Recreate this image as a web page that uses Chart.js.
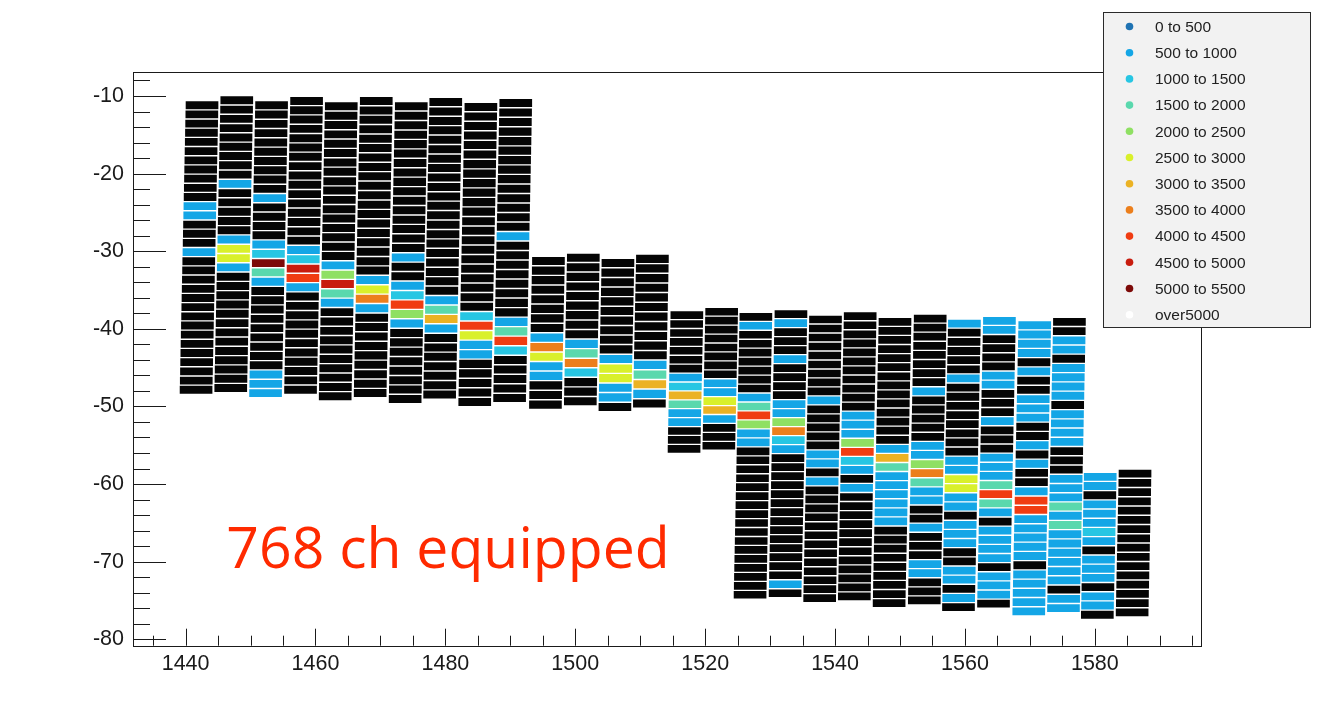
<!DOCTYPE html>
<html>
<head>
<meta charset="utf-8">
<script src="https://cdn.jsdelivr.net/npm/chart.js@4/dist/chart.umd.min.js"></script>
<style>
  html, body { margin: 0; padding: 0; background: #ffffff; }
  #wrap { width: 1331px; height: 713px; position: relative; }
</style>
</head>
<body>
<div id="wrap"><canvas id="c"></canvas></div>
<script>
// ---------- data ----------
const binLabels = ["0 to 500","500 to 1000","1000 to 1500","1500 to 2000","2000 to 2500","2500 to 3000",
                   "3000 to 3500","3500 to 4000","4000 to 4500","4500 to 5000","5000 to 5500","over5000"];
const binColors = ["#1f73b3","#14a6e6","#27c6e3","#5ad8ad","#8fe063","#d9f02b",
                   "#ebb224","#ec7f1c","#f03c12","#c81c0e","#7d0a08","#ffffff"];
const deadColor = "#050505";

// column centre (x, at the column top), top and bottom edge (y), channel count
const colX = [1442.54,1447.89,1453.25,1458.64,1463.98,1469.37,1474.76,1480.07,1485.48,1490.85,
              1495.88,1501.25,1506.58,1511.89,1517.19,1522.55,
              1527.82,1533.22,1538.54,1543.88,1549.24,1554.66,1559.93,1565.32,1570.76,1576.10,1580.84,1586.20];
const colTop = [-10.73,-10.09,-10.73,-10.17,-10.86,-10.17,-10.86,-10.30,-10.94,-10.43,
                -30.78,-30.36,-31.04,-30.49,-37.79,-37.35,
                -38.00,-37.66,-38.35,-37.92,-38.64,-38.22,-38.86,-38.51,-39.08,-38.64,-58.61,-58.19];
const colBottom = [-48.31,-48.10,-48.75,-48.31,-49.17,-48.75,-49.52,-48.95,-49.90,-49.39,
                   -50.24,-49.81,-50.55,-50.11,-55.91,-55.52,
                   -74.72,-74.52,-75.16,-74.94,-75.80,-75.46,-76.32,-75.88,-76.87,-76.45,-77.30,-77.00];
const colRows = [32,32,32,32,32,32,32,32,32,32, 16,16,16,16,16,16, 32,32,32,32,32,32,32,32,32,32,16,16];

// channels with a hit: [row from top, rate bin index]; all other channels are black
const colHits = [
  [[11,1],[12,1],[16,1]],
  [[9,1],[15,1],[16,5],[17,5],[18,1]],
  [[10,1],[15,1],[16,2],[17,10],[18,3],[19,1],[29,1],[30,1],[31,1]],
  [[16,1],[17,2],[18,9],[19,8],[20,1]],
  [[17,1],[18,4],[19,9],[20,3],[21,1]],
  [[19,1],[20,5],[21,7],[22,1]],
  [[16,1],[19,1],[20,2],[21,8],[22,4],[23,1]],
  [[21,1],[22,3],[23,6],[24,1]],
  [[22,2],[23,8],[24,5],[25,1],[26,1]],
  [[14,1],[23,1],[24,3],[25,8],[26,2]],
  [[8,1],[9,7],[10,5],[11,1],[12,1]],
  [[9,1],[10,3],[11,7],[12,2]],
  [[10,1],[11,5],[12,5],[13,1],[14,1]],
  [[11,1],[12,3],[13,6],[14,1]],
  [[7,1],[8,2],[9,6],[10,3],[11,1],[12,1]],
  [[8,1],[9,1],[10,5],[11,6],[12,1]],
  [[1,1],[9,1],[10,3],[11,8],[12,4],[13,1],[14,1]],
  [[1,1],[5,1],[10,1],[11,1],[12,4],[13,7],[14,2],[15,1],[30,1]],
  [[9,1],[15,1],[16,1],[18,1]],
  [[11,1],[12,1],[13,1],[14,4],[15,8],[16,2],[17,1],[19,1]],
  [[14,1],[15,6],[16,3],[17,1],[18,1],[19,1],[20,1],[21,1],[22,1]],
  [[8,1],[14,1],[15,1],[16,4],[17,7],[18,3],[19,1],[20,1],[23,1],[27,1],[28,1]],
  [[0,1],[6,1],[15,1],[16,1],[17,5],[18,5],[19,1],[20,1],[22,1],[23,1],[24,1],[27,1],[28,1],[30,1]],
  [[0,1],[1,1],[6,1],[7,1],[11,1],[15,1],[16,1],[17,1],[18,3],[19,8],[20,3],[21,1],[23,1],[24,1],[25,1],[26,1],[28,1],[29,1],[30,1]],
  [[0,1],[1,1],[2,1],[3,1],[5,1],[8,1],[9,1],[10,1],[13,1],[15,1],[18,1],[19,8],[20,8],[21,1],[22,1],[23,1],[24,1],[25,1],[27,1],[28,1],[29,1],[30,1],[31,1]],
  [[2,1],[3,1],[5,1],[6,1],[7,1],[8,1],[10,1],[11,1],[12,1],[13,1],[17,1],[18,1],[19,1],[20,3],[21,1],[22,3],[23,1],[24,1],[25,1],[26,1],[27,1],[28,1],[30,1],[31,1]],
  [[0,1],[1,1],[3,1],[4,1],[5,1],[6,2],[7,1],[9,1],[10,1],[11,1],[13,1],[14,1]],
  []
];

const xTickValues = [1440,1460,1480,1500,1520,1540,1560,1580];
const yTickValues = [-80,-70,-60,-50,-40,-30,-20,-10];
const noteText = "768 ch equipped";

// ---------- geometry / style ----------
const X_MIN = 1431.9, X_MAX = 1596.3, Y_MIN = -80.83, Y_MAX = -6.843;
const CELL_FILL = 0.78;   // fraction of the row pitch that is filled
const TILT = 0.025;       // x shift per unit of depth (columns lean slightly)
const NOTE = { x0: 1446.27, x1: 1514.54, y: -70.78 };
const LEG = { x: 1103, y: 12, w: 207, h: 315, dotX: 1129.5, textX: 1155, y0: 26.5, step: 26.2 };
const FONT = '"Liberation Sans", Arial, Helvetica, sans-serif';

// ---------- build cells ----------
const cellsByBin = binLabels.map(() => []);
const deadCells = [];
for (let c = 0; c < colX.length; c++) {
  const n = colRows[c], top = colTop[c], bot = colBottom[c];
  const pitch = (top - bot) / (n - 1 + CELL_FILL);
  const bin = new Array(n).fill(-1);
  for (const [r, k] of colHits[c]) bin[r] = k;
  for (let r = 0; r < n; r++) {
    const hi = top - r * pitch, lo = hi - CELL_FILL * pitch;
    const x = colX[c] - TILT * (top - (hi + lo) / 2);
    const pt = { x: x, y: [lo, hi] };
    if (bin[r] < 0) deadCells.push(pt); else cellsByBin[bin[r]].push(pt);
  }
}
const datasets = [{ label: "no hit", data: deadCells, backgroundColor: deadColor, inLegend: false }];
binLabels.forEach((lab, i) => datasets.push({ label: lab, data: cellsByBin[i], backgroundColor: binColors[i], inLegend: true }));

// ---------- plugins ----------
const frameTicks = {
  id: 'frameTicks',
  afterDatasetsDraw(chart) {
    const { ctx, chartArea: a, scales: { x, y } } = chart;
    ctx.save();
    ctx.strokeStyle = '#1a1a1a';
    ctx.lineWidth = 1;
    ctx.strokeRect(Math.round(a.left) + 0.5, Math.round(a.top) + 0.5,
                   Math.round(a.right - a.left), Math.round(a.bottom - a.top));
    ctx.beginPath();
    for (let v = Math.ceil(X_MIN / 5) * 5; v <= X_MAX; v += 5) {
      const px = Math.round(x.getPixelForValue(v)) + 0.5;
      const len = (v % 20 === 0) ? 17 : 10;
      ctx.moveTo(px, a.bottom); ctx.lineTo(px, a.bottom - len);
    }
    for (let v = Math.ceil(Y_MIN / 2) * 2; v <= Y_MAX; v += 2) {
      const py = Math.round(y.getPixelForValue(v)) + 0.5;
      const len = (v % 10 === 0) ? 33 : 17;
      ctx.moveTo(a.left, py); ctx.lineTo(a.left + len, py);
    }
    ctx.stroke();
    ctx.restore();
  }
};

const notePlugin = {
  id: 'note',
  afterDatasetsDraw(chart) {
    const { ctx, scales: { x, y } } = chart;
    const x0 = x.getPixelForValue(NOTE.x0), x1 = x.getPixelForValue(NOTE.x1), yb = y.getPixelForValue(NOTE.y);
    ctx.save();
    ctx.font = '57px "Open Sans", "Noto Sans", sans-serif';
    ctx.textBaseline = 'alphabetic';
    ctx.textAlign = 'left';
    const w = ctx.measureText(noteText).width;
    ctx.translate(x0, yb);
    ctx.scale((x1 - x0) / w, 1);
    ctx.fillStyle = '#ff2a00';
    ctx.fillText(noteText, 0, 0);
    ctx.restore();
  }
};

const legendBox = {
  id: 'legendBox',
  afterDraw(chart) {
    const ctx = chart.ctx;
    ctx.save();
    ctx.fillStyle = '#f2f2f2';
    ctx.fillRect(LEG.x, LEG.y, LEG.w, LEG.h);
    ctx.strokeStyle = '#2a2a2a';
    ctx.lineWidth = 1;
    ctx.strokeRect(LEG.x + 0.5, LEG.y + 0.5, LEG.w, LEG.h);
    ctx.font = '15.5px ' + FONT;
    ctx.textBaseline = 'middle';
    ctx.textAlign = 'left';
    const items = chart.data.datasets.filter(d => d.inLegend);
    items.forEach((d, i) => {
      const cy = LEG.y0 + i * LEG.step;
      ctx.beginPath();
      ctx.arc(LEG.dotX, cy, 3.8, 0, Math.PI * 2);
      ctx.fillStyle = d.backgroundColor;
      ctx.fill();
      ctx.fillStyle = '#222222';
      ctx.fillText(d.label, LEG.textX, cy + 1);
    });
    ctx.restore();
  }
};

// ---------- chart ----------
new Chart(document.getElementById('c'), {
  type: 'bar',
  data: { datasets: datasets },
  options: {
    responsive: true,
    maintainAspectRatio: false,
    animation: false,
    events: [],
    layout: { padding: { left: 0, top: 71.5, right: 130.3, bottom: 0 } },
    datasets: { bar: { grouped: false, barThickness: 32, borderWidth: 0 } },
    plugins: { legend: { display: false }, tooltip: { enabled: false }, title: { display: false } },
    scales: {
      x: {
        type: 'linear', position: 'bottom', min: X_MIN, max: X_MAX, offset: false,
        grid: { display: false, drawTicks: false, offset: false },
        border: { display: false },
        afterBuildTicks(s) { s.ticks = xTickValues.map(v => ({ value: v })); },
        ticks: { autoSkip: false, maxRotation: 0, padding: 5, color: '#1a1a1a',
                 font: { family: FONT, size: 21.5 }, callback: v => String(v) },
        afterFit(s) { s.height = 713 - 645.7; }
      },
      y: {
        type: 'linear', position: 'left', min: Y_MIN, max: Y_MAX,
        grid: { display: false, drawTicks: false },
        border: { display: false },
        afterBuildTicks(s) { s.ticks = yTickValues.map(v => ({ value: v })); },
        ticks: { autoSkip: false, padding: 9, color: '#1a1a1a',
                 font: { family: FONT, size: 21.5 }, callback: v => String(v) },
        afterFit(s) { s.width = 133; }
      }
    }
  },
  plugins: [frameTicks, notePlugin, legendBox]
});
</script>
</body>
</html>
